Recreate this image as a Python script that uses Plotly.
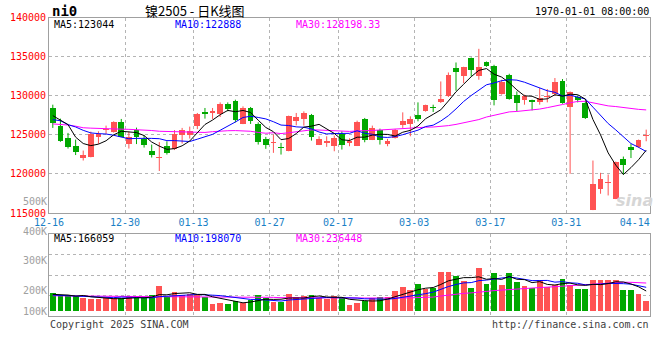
import plotly.graph_objects as go
import pandas as pd

# ---------------- data ----------------
trade_dates = (
    ["12-16","12-17","12-18","12-19","12-20","12-23","12-24","12-25","12-26","12-27","12-30","12-31"] +
    ["01-02","01-03","01-06","01-07","01-08","01-09","01-10","01-13","01-14","01-15","01-16","01-17",
     "01-20","01-21","01-22","01-23","01-24","01-27"] +
    ["02-05","02-06","02-07","02-10","02-11","02-12","02-13","02-14","02-17","02-18","02-19","02-20",
     "02-21","02-24","02-25","02-26","02-27","02-28"] +
    ["03-03","03-04","03-05","03-06","03-07","03-10","03-11","03-12","03-13","03-14","03-17","03-18",
     "03-19","03-20","03-21","03-24","03-25","03-26","03-27","03-28","03-31"] +
    ["04-01","04-02","04-03","04-07","04-08","04-09","04-10","04-11","04-14","04-15"]
)

opens = [128469,126174,124617,123622,122003,122117,124681,125600,125319,126684,
         123878,125663,124452,122985,122040,123537,123176,124936,125025,126084,
         127921,127793,127704,128980,129362,126429,128431,126429,124477,123967,
         123452,122894,126812,127066,127577,123750,123967,123537,125153,123967,
         123622,127066,124388,125663,123878,124605,126301,126429,127577,127997,
         128469,129145,129911,133533,132462,134885,132462,134247,133826,130217,
         132615,130128,129400,129400,129145,129834,130255,131913,128508,129834,
         129107,115370,118010,118776,116824,121926,123457,123431,124898]
highs = [128852,127066,125242,124388,122985,125408,125446,126174,126722,127028,
         125408,125918,124962,123750,124069,124171,125600,125880,126046,127793,
         128431,128431,129145,129145,129490,128636,128559,126594,124732,125025,
         123967,127449,127793,127997,127666,124809,124809,124898,125446,124554,
         126811,127156,126174,125791,124477,125753,127870,127360,129145,128852,
         128852,131824,132972,134247,133699,134885,135995,134375,133954,132041,
         132806,130548,130128,129490,130982,130855,132258,132130,130548,130000,
         129273,121709,120140,119924,121581,122219,123814,124388,125663]
lows = [125880,124100,123240,122411,121710,122117,123840,125115,125280,124707,
        123240,123814,123367,122092,120370,122475,123048,123878,124516,125727,
        127066,127028,127280,127997,126594,126365,126390,123750,123202,122692,
        122475,122894,126212,126174,124260,123686,123457,122894,123112,123537,
        123560,124043,124324,123750,123537,124516,125880,124809,126722,127959,
        127921,129069,129834,130638,131620,132462,132041,133699,128763,130128,
        129490,127997,128852,128125,128852,129145,130000,128980,120013,129145,
        127028,115370,117462,117245,116773,119924,122028,123325,124171]
closes = [126518,124171,123495,122768,122475,125153,125115,125663,126594,124732,
          124732,124707,123750,122475,122100,122670,125153,125574,125535,127704,
          127615,127997,128980,128304,126850,128431,126722,124043,123661,124133,
          123325,127449,127233,127793,124732,124477,124260,124605,123750,124260,
          126594,124298,125880,124298,124171,125574,126722,127066,127066,128852,
          128380,129617,132679,132972,133661,133227,133661,133826,129400,131786,
          129617,129107,130000,129145,129745,130000,131696,129107,130421,129400,
          127194,118648,119286,118903,121581,121199,123074,124324,124962]
volumes = [153700,134400,134400,123500,106700,98300,98300,106700,106700,106700,
           128500,106700,106700,134400,212500,120100,159600,134400,140300,142800,
           120100,58800,69700,58800,86500,69700,92400,134400,111700,78100,
           78100,142800,120100,126000,134400,106700,100800,126000,106700,50400,
           69700,84000,106700,120100,120100,168000,201600,176400,226800,184800,
           195700,330000,330000,294000,252000,195700,363700,226800,321700,218400,
           321700,243600,212500,195700,260400,204100,218400,271300,218400,184800,
           184800,260400,260400,260400,260400,176400,176400,142800,84000]

ma5_head = [127450, 126900, 126300, 124700]
ma10_head = [126940, 126800, 126300, 126000, 125570, 125240, 125150, 125100, 124940]
ma30_head = [126390, 126350, 126250, 126100, 125900, 125850, 125800, 125750, 125750, 125720,
             125700, 125680, 125650, 125550, 125450, 125420, 125380, 125330, 125300, 125260,
             125300, 125400, 125500, 125520, 125540, 125520, 125450, 125300, 125200]
vma5_head = [140000, 138000, 134000, 125000]
vma10_head = [134000, 132000, 130000, 127000, 124000, 120000, 117000, 114000, 112000]
vma30_head = [128000, 127000, 126000, 125000, 124000, 123000, 122000, 121000, 121000, 120000,
              120000, 120000, 120000, 120000, 120000, 120000, 120000, 120000, 119000, 119000,
              118000, 118000, 117000, 117000, 116000, 116000, 115000, 115000, 115000]

tick_labels = ["12-16", "12-30", "01-13", "01-27", "02-17", "03-03", "03-17", "03-31", "04-14"]
price_ticks = [115000, 120000, 125000, 130000, 135000, 140000]
vol_tick_labels = ["500K", "400K", "300K", "200K", "100K"]

header_ma = ["MA5:123044", "MA10:122888", "MA30:128198.33"]
vol_header_ma = ["MA5:166059", "MA10:198070", "MA30:236448"]

# ---------------- helpers ----------------
def moving(values, n, head):
    s = pd.Series(values, dtype=float).rolling(n).mean().tolist()
    for k, v in enumerate(head):
        s[k] = v
    return s

ma5 = moving(closes, 5, ma5_head)
ma10 = moving(closes, 10, ma10_head)
ma30 = moving(closes, 30, ma30_head)
vma5 = moving(volumes, 5, vma5_head)
vma10 = moving(volumes, 10, vma10_head)
vma30 = moving(volumes, 30, vma30_head)

RED = "#ff5353"
GREEN = "#00a800"
n = len(closes)
idx = list(range(n))
up = [closes[i] >= opens[i] for i in idx]
colors = [RED if u else GREEN for u in up]

W, H = 660, 360
def px(xp):
    return xp / W
def py(yp):
    return 1 - yp / H

fig = go.Figure()

# wicks
for flag, col in ((True, RED), (False, GREEN)):
    wx, wy = [], []
    for i in idx:
        if up[i] == flag:
            wx += [i, i, None]
            wy += [lows[i], highs[i], None]
    fig.add_trace(go.Scatter(x=wx, y=wy, mode="lines", line=dict(color=col, width=1),
                             hoverinfo="skip", showlegend=False, xaxis="x", yaxis="y"))

# bodies
body_base = [min(opens[i], closes[i]) for i in idx]
body_h = [max(abs(closes[i] - opens[i]), 140) for i in idx]
fig.add_trace(go.Bar(x=idx, y=body_h, base=body_base, width=0.76,
                     marker=dict(color=colors, line=dict(width=0)),
                     showlegend=False, xaxis="x", yaxis="y"))

for ser, col in ((ma30, "#ff00ff"), (ma10, "#0000ff"), (ma5, "#000000")):
    fig.add_trace(go.Scatter(x=idx, y=ser, mode="lines", line=dict(color=col, width=1),
                             showlegend=False, xaxis="x", yaxis="y"))

# volume
fig.add_trace(go.Bar(x=idx, y=volumes, width=0.76,
                     marker=dict(color=colors, line=dict(width=0)),
                     showlegend=False, xaxis="x2", yaxis="y2"))
for ser, col in ((vma30, "#ff00ff"), (vma10, "#0000ff"), (vma5, "#000000")):
    fig.add_trace(go.Scatter(x=idx, y=ser, mode="lines", line=dict(color=col, width=1),
                             showlegend=False, xaxis="x2", yaxis="y2"))

label_pos = [trade_dates.index(t) - 0.5 for t in tick_labels]
grid_pos = label_pos[1:-1]

MONO = "DejaVu Sans Mono"
GRID = "#b4b4b4"
BORDER = "#a0a0a0"

xcommon = dict(range=[-0.5, n - 0.5], domain=[px(49), px(650)], showgrid=False,
               zeroline=False, showline=True, linecolor=BORDER, linewidth=1, mirror=True,
               ticks="", fixedrange=True, automargin=False,
               minor=dict(tickvals=grid_pos, showgrid=True, gridcolor=GRID,
                          griddash="dot", gridwidth=1, ticks=""))

vol_per_px = 8400.0
vol_range = [-5 * vol_per_px, 77 * vol_per_px]
vol_grid = [vol_range[0] + k * (vol_range[1] - vol_range[0]) / 4 for k in (1, 2, 3)]

fig.update_layout(
    width=W, height=H, margin=dict(l=0, r=0, t=0, b=0, autoexpand=False),
    paper_bgcolor="white", plot_bgcolor="white", bargap=0,
    xaxis=dict(xcommon, anchor="y", tickmode="array", tickvals=label_pos, ticktext=tick_labels,
               tickfont=dict(family=MONO, size=10, color="#1a7fc6"), showticklabels=True),
    xaxis2=dict(xcommon, anchor="y2", matches="x", showticklabels=False),
    yaxis=dict(domain=[py(213), py(17.5)], range=[115000, 140000], tickmode="array",
               tickvals=price_ticks, ticktext=[str(v) for v in price_ticks],
               tickfont=dict(family=MONO, size=10, color="#ff0000"),
               showgrid=True, gridcolor=GRID, griddash="dot", gridwidth=1,
               zeroline=False, showline=True, linecolor=BORDER, linewidth=1, mirror=True,
               ticks="", fixedrange=True, automargin=False),
    yaxis2=dict(domain=[py(316), py(234)], range=vol_range, tickmode="array",
                tickvals=vol_grid, showticklabels=False,
                showgrid=True, gridcolor=GRID, griddash="dot", gridwidth=1,
                zeroline=False, showline=True, linecolor=BORDER, linewidth=1, mirror=True,
                ticks="", fixedrange=True, automargin=False),
)

ann = []
def text(x, y, s, color="#000000", size=10, anchor="left", family=MONO, bold=False):
    ann.append(dict(x=px(x), y=py(y), xref="paper", yref="paper", text=s, showarrow=False,
                    xanchor=anchor, yanchor="middle", borderpad=0,
                    font=dict(family=family, size=size, color=color,
                              weight="bold" if bold else "normal")))

text(51, 10.5, "ni0", size=14, bold=True)
text(195, 10, "镍2505 - 日K线图", size=13, anchor="center", family="Noto Sans CJK SC")
text(650, 12, "1970-01-01 08:00:00", anchor="right")
for s, xx, c in zip(header_ma, (53, 173.5, 294.5), ("#000000", "#0000ff", "#ff00ff")):
    text(xx, 24.5, s, color=c)
for s, xx, c in zip(vol_header_ma, (53, 173.5, 294.5), ("#000000", "#0000ff", "#ff00ff")):
    text(xx, 238.5, s, color=c)
for s, yy in zip(vol_tick_labels, (201, 231, 260.5, 290.5, 311)):
    text(48, yy, s, color="#a0a0a0", anchor="right")
text(49, 324, "Copyright 2025 SINA.COM", color="#404040")
text(650, 324, "http://finance.sina.com.cn", color="#404040", anchor="right")
# faint watermark
ann.append(dict(x=px(634), y=py(200), xref="paper", yref="paper", text="sina", showarrow=False,
                xanchor="center", yanchor="middle",
                font=dict(family="DejaVu Sans", size=16, color="#d6d6d6", style="italic",
                          weight="bold")))
fig.update_layout(annotations=ann)

fig.write_html("out.html", config={"displayModeBar": False, "staticPlot": True},
               post_script="document.body.style.margin='0px';")
